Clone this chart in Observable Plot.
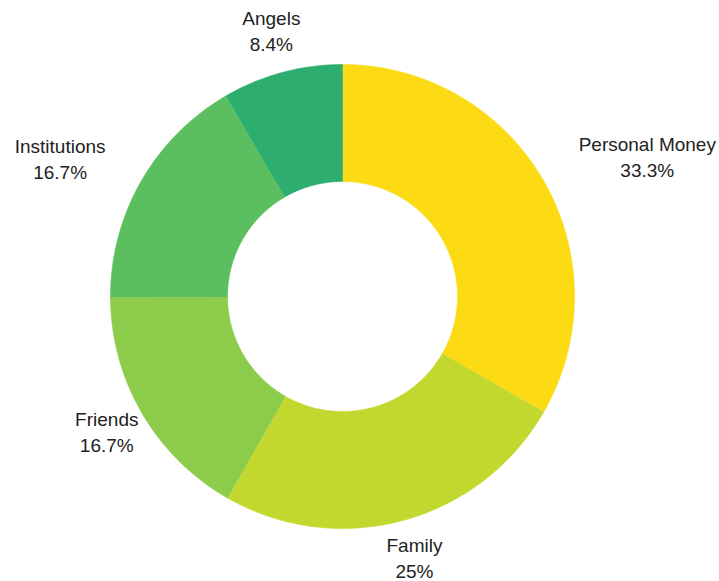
<!DOCTYPE html>
<html>
<head>
<meta charset="utf-8">
<script src="https://cdn.jsdelivr.net/npm/d3@7"></script>
<script src="https://cdn.jsdelivr.net/npm/@observablehq/plot@0.6"></script>
<style>
  html, body { margin: 0; padding: 0; background: #fff; }
  #chart svg { display: block; }
</style>
</head>
<body>
<div id="chart"></div>
<script>
// ---- data ----
const categories = ["Personal Money", "Family", "Friends", "Institutions", "Angels"];
const values = [33.3, 25, 16.7, 16.7, 8.4];
const valueLabels = ["33.3%", "25%", "16.7%", "16.7%", "8.4%"];
const colors = ["#FCDB15", "#C2D82E", "#8DCB4A", "#5CBF5F", "#2EAE6E"];

// ---- layout ----
const W = 719, H = 581;
const cx = 342, cy = 296, R = 232, R0 = 115, RL = 273, LY = -3.5;
const fontSize = 19, lineH = 26;
const font = `${fontSize}px 'Liberation Sans', Arial, sans-serif`;

const total = d3.sum(values);
let acc = 0;
const slices = values.map((v, i) => {
  const a0 = acc / total * 2 * Math.PI;
  acc += v;
  const a1 = acc / total * 2 * Math.PI;
  return {i, a0, a1, mid: (a0 + a1) / 2};
});

const px = (r, a) => cx + r * Math.sin(a);
const py = (r, a) => cy - r * Math.cos(a);

function slicePoints(s) {
  const n = Math.max(8, Math.ceil((s.a1 - s.a0) / (Math.PI / 180)));
  const pts = [];
  for (let k = 0; k <= n; k++) {
    const a = s.a0 + (s.a1 - s.a0) * k / n;
    pts.push({x: px(R, a), y: py(R, a)});
  }
  for (let k = n; k >= 0; k--) {
    const a = s.a0 + (s.a1 - s.a0) * k / n;
    pts.push({x: px(R0, a), y: py(R0, a)});
  }
  return pts;
}

// label placement: block centered at RL on the mid-angle; if that box would overlap
// the ring, push it outward so its inner edge sits at that point (lines stay centered).
const ctx = document.createElement("canvas").getContext("2d");
ctx.font = font;
const labels = slices.map(s => {
  const text = categories[s.i] + "\n" + valueLabels[s.i];
  const w = Math.max(ctx.measureText(categories[s.i]).width, ctx.measureText(valueLabels[s.i]).width);
  let x = px(RL, s.mid);
  const y = py(RL, s.mid) + LY;
  const hh = lineH * 0.8;
  const bx = Math.max(x - w / 2, Math.min(cx, x + w / 2));
  const by = Math.max(y - hh, Math.min(cy, y + hh));
  if (Math.hypot(bx - cx, by - cy) < R) x += (Math.sin(s.mid) > 0 ? 1 : -1) * w / 2;
  return {text, x, y};
});

const marks = slices.map(s =>
  Plot.line(slicePoints(s), {x: "x", y: "y", fill: colors[s.i], stroke: colors[s.i], strokeWidth: 0.6, curve: "linear"})
);
marks.push(Plot.text(labels, {
  x: "x", y: "y", text: "text", textAnchor: "middle", lineAnchor: "middle",
  lineHeight: lineH / fontSize, fontSize, fill: "#222"
}));

const chart = Plot.plot({
  width: W, height: H, margin: 0,
  style: {fontFamily: "'Liberation Sans', Arial, sans-serif", background: "#fff"},
  x: {domain: [0, W], range: [0, W], axis: null},
  y: {domain: [0, H], range: [0, H], axis: null},
  marks
});
document.getElementById("chart").appendChild(chart);
</script>
</body>
</html>
